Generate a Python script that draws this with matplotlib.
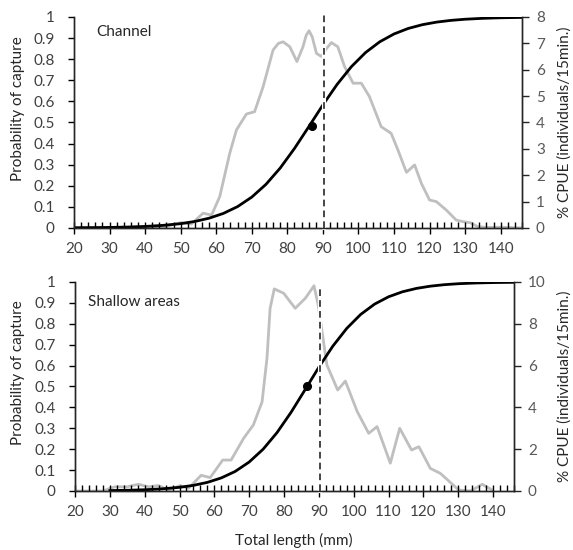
import numpy as np
import matplotlib
matplotlib.use("Agg")
import matplotlib.pyplot as plt
from matplotlib.ticker import MultipleLocator, FixedLocator

plt.rcParams['font.family'] = ['Lato', 'DejaVu Sans']
plt.rcParams['font.size'] = 10

# ---- data ----
# probability of capture (selectivity curve), channel
ch_len = [20, 25, 30, 35, 40, 45, 50, 54, 58, 62, 66, 70, 74, 78, 82, 86,
          90, 94, 98, 102, 106, 110, 114, 118, 122, 126, 130, 135, 140, 146]
ch_prob = [0.0009, 0.0015, 0.0026, 0.0043, 0.0073, 0.0123, 0.0205, 0.0309,
           0.0464, 0.0689, 0.1012, 0.1463, 0.2069, 0.2841, 0.3766, 0.479,
           0.5832, 0.6805, 0.7642, 0.8315, 0.8825, 0.9195, 0.9457, 0.9636,
           0.9758, 0.9839, 0.9894, 0.9937, 0.9963, 0.998]
# CPUE length distribution, channel
ch_cpue_len = [20, 30, 40, 46, 50, 53, 56.3, 58.7, 61, 63.8, 65.7, 68.5, 70.8,
               73.2, 76, 77.5, 78.8, 80.7, 82.7, 84.4, 85.3, 86.1, 87.0, 88.2,
               89.6, 91, 92.4, 94.2, 96.1, 98.5, 100.8, 103.1, 106.4, 109.2,
               111.1, 113.5, 115.8, 117.7, 120, 121.9, 124.7, 127.5, 129.4,
               131.5, 133.5, 136, 140, 146]
ch_cpue = [0.02, 0.02, 0.03, 0.06, 0.2, 0.15, 0.56, 0.49, 1.19, 2.83, 3.72,
           4.32, 4.41, 5.36, 6.75, 7.0, 7.06, 6.87, 6.31, 6.87, 7.3, 7.48,
           7.25, 6.62, 6.5, 6.8, 7.03, 6.87, 6.12, 5.49, 5.49, 4.98, 3.84,
           3.59, 2.96, 2.11, 2.39, 1.69, 1.06, 1.0, 0.68, 0.30, 0.24, 0.2,
           0.05, 0.02, 0.03, 0.0]
ch_l50 = (86.8, 0.485)
ch_mls = 90.4

# shallow areas
sh_len = [30, 35, 40, 45, 50, 54, 58, 62, 66, 70, 74, 78, 82, 86, 90, 94,
          98, 102, 106, 110, 114, 118, 122, 126, 130, 135, 140, 146]
sh_prob = [0.002, 0.0034, 0.0059, 0.0102, 0.0175, 0.027, 0.0412, 0.0626,
           0.0938, 0.1387, 0.2, 0.2797, 0.3761, 0.4835, 0.5924, 0.693,
           0.778, 0.8448, 0.8942, 0.9292, 0.9532, 0.9693, 0.98, 0.9871,
           0.9917, 0.9952, 0.9972, 0.9985]
sh_cpue_len = [20, 28, 30.1, 31.5, 34.9, 38.2, 41.1, 43.9, 46.8, 50.2, 52.6,
               56.2, 58.8, 62.4, 64.8, 68.4, 71.2, 73.7, 75.1, 76.0, 77.2,
               79.9, 83.2, 86.1, 88.6, 89.8, 91.2, 92.3, 95.4, 97.6, 101.0,
               104.3, 106.7, 110.5, 113.2, 116.6, 118.7, 122.0, 124.9, 130.1,
               133.5, 136.9, 139.7]
sh_cpue = [0, 0, 0.13, 0.2, 0.2, 0.32, 0.2, 0.26, 0.05, 0.26, 0.13, 0.75,
           0.64, 1.48, 1.48, 2.52, 3.16, 4.27, 6.35, 8.74, 9.67, 9.46, 8.74,
           9.22, 9.82, 8.9, 7.3, 6.03, 4.83, 5.26, 3.8, 2.76, 3.08, 1.33, 3.0,
           1.96, 2.12, 1.08, 0.84, 0.05, 0.0, 0.32, 0.05]
sh_l50 = (86.6, 0.5)
sh_mls = 90.4

prob_ticks = [0, 0.1, 0.2, 0.3, 0.4, 0.5, 0.6, 0.7, 0.8, 0.9, 1]
prob_labels = ['0', '0.1', '0.2', '0.3', '0.4', '0.5', '0.6', '0.7', '0.8',
               '0.9', '1']

GREY = '#bfbfbf'
LBL = '#404040'
RLBL = '#595959'


def panel(rect, plen, prob, clen, cpue, l50, mls, mls_top, cmax, cstep,
          title, tpos):
    ax = fig.add_axes(rect)
    ax2 = ax.twinx()
    ax.set_zorder(ax2.get_zorder() + 1)
    ax.patch.set_visible(False)

    ax2.plot(clen, cpue, color=GREY, lw=2, solid_joinstyle='round')
    ax2.set_ylim(0, cmax)
    ax2.yaxis.set_major_locator(MultipleLocator(cstep))
    ax2.tick_params(axis='y', direction='out', length=5, width=1,
                    colors='#262626', labelcolor=RLBL, labelsize=11, pad=5)

    ax.plot(plen, prob, color='black', lw=2)
    ax.axvline(mls, ymin=0, ymax=mls_top, color='white', lw=3, clip_on=False)
    ax.axvline(mls, ymin=0, ymax=mls_top, color='#262626', lw=1.2,
               ls=(0, (4, 2.5)), clip_on=False)
    ax.plot([l50[0]], [l50[1]], 'o', color='black', ms=5.5)

    ax.set_xlim(20, 146)
    ax.set_ylim(0, 1)
    ax.xaxis.set_major_locator(MultipleLocator(10))
    ax.xaxis.set_minor_locator(MultipleLocator(2))
    ax.yaxis.set_major_locator(FixedLocator(prob_ticks))
    ax.set_yticklabels(prob_labels)
    ax.tick_params(axis='x', which='major', direction='inout', length=8,
                   width=1, labelcolor=LBL, labelsize=11, pad=6)
    ax.tick_params(axis='x', which='minor', direction='in', length=4, width=1)
    ax.tick_params(axis='y', direction='out', length=4, width=1,
                   labelcolor=LBL, labelsize=11, pad=10)
    for a in (ax, ax2):
        a.spines['top'].set_visible(False)
        for s in ('left', 'right', 'bottom'):
            a.spines[s].set_color('#262626')
            a.spines[s].set_linewidth(1)
    ax.text(tpos[0], tpos[1], title, transform=ax.transAxes, fontsize=11,
            color='#262626', va='center', ha='left')
    return ax, ax2


fig = plt.figure(figsize=(5.73, 5.5), dpi=100)

panel([0.1291, 0.5855, 0.7819, 0.3836], ch_len, ch_prob, ch_cpue_len,
      ch_cpue, ch_l50, ch_mls, 1.01, 8, 1, 'Channel', (0.049, 0.93))
panel([0.1309, 0.1073, 0.7661, 0.38], sh_len, sh_prob, sh_cpue_len,
      sh_cpue, sh_l50, sh_mls, 0.97, 10, 2, 'Shallow areas', (0.03, 0.904))

for yc in (1 - 109 / 550, 1 - 373 / 550):
    fig.text(18 / 573, yc, 'Probability of capture', rotation=90,
             ha='center', va='center', color='#262626', fontsize=11)
for yc in (1 - 122 / 550, 1 - 386 / 550):
    fig.text(565 / 573, yc, '% CPUE (individuals/15min.)', rotation=90,
             ha='center', va='center', color='#262626', fontsize=11)
fig.text(294 / 573, 1 - 540 / 550, 'Total length (mm)', ha='center',
         va='center', color='#262626', fontsize=11)

fig.savefig('out.png', dpi=100)
